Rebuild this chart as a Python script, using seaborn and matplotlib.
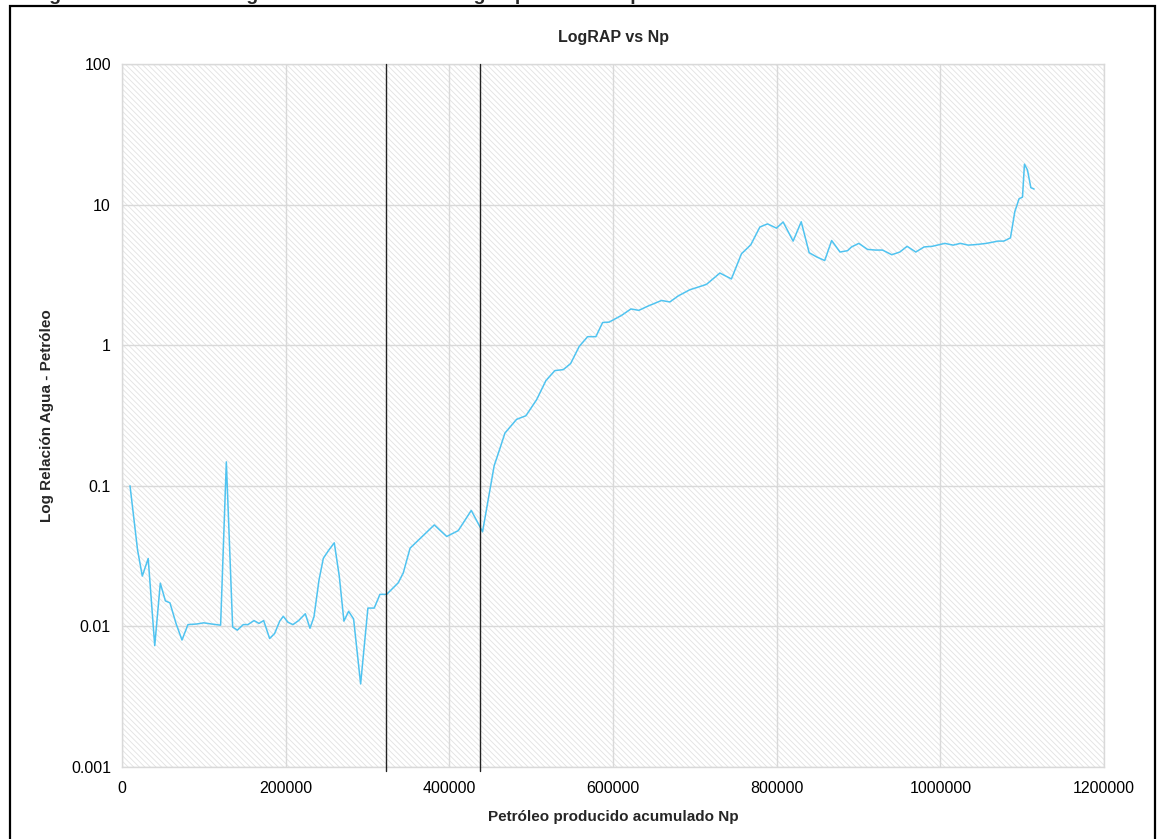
import numpy as np
import pandas as pd
import matplotlib
matplotlib.use("Agg")
import matplotlib.pyplot as plt
from matplotlib.patches import Rectangle
from matplotlib.ticker import FixedLocator, FixedFormatter
import seaborn as sns

# datos
np_acum = [9800, 19000, 24800, 32000, 40000, 46800, 53000, 58600, 66000, 73300,
           80600, 91200, 100000, 109500, 120500, 127500, 135200, 140900, 148200, 153900,
           161300, 167400, 173100, 180400, 186500, 192700, 197100, 202800, 208900, 215800,
           224000, 229700, 234600, 240700, 246000, 252900, 259400, 265500, 271200, 276900,
           283000, 291600, 300500, 308200, 315200, 323400, 337500, 343700, 352000, 381600,
           396800, 410900, 426800, 440600, 454800, 461800, 467900, 482200, 493600, 506700,
           518000, 529000, 539200, 548200, 558700, 569000, 579100, 587300, 595300, 610500,
           621900, 631600, 643000, 659300, 669500, 679600, 693900, 703300, 714300, 730600,
           744700, 757000, 768400, 779500, 788800, 799800, 807900, 820100, 830000, 839700,
           848700, 858700, 867200, 877400, 886600, 891500, 900400, 911000, 920800, 929300,
           940700, 950500, 959400, 970000, 980200, 990000, 1005500, 1015600, 1024600, 1034000,
           1044000, 1056300, 1063600, 1070500, 1077500, 1085700, 1091000, 1096200, 1100400, 1102800,
           1106500, 1110600, 1114600]
rap = [0.100, 0.035, 0.0228, 0.0304, 0.0073, 0.0203, 0.0152, 0.0147, 0.0105, 0.0080,
       0.0103, 0.0104, 0.0106, 0.0104, 0.0102, 0.148, 0.0099, 0.0094, 0.0103, 0.0103,
       0.0110, 0.0105, 0.0110, 0.0082, 0.0089, 0.0109, 0.0118, 0.0107, 0.0103, 0.0110,
       0.0123, 0.0097, 0.0117, 0.0213, 0.0305, 0.0350, 0.0393, 0.0228, 0.0109, 0.0128,
       0.0113, 0.0039, 0.0135, 0.0135, 0.0169, 0.0169, 0.0204, 0.0240, 0.036, 0.0527,
       0.0436, 0.0480, 0.0668, 0.0471, 0.139, 0.184, 0.237, 0.297, 0.315, 0.41,
       0.56, 0.66, 0.67, 0.74, 0.98, 1.15, 1.15, 1.45, 1.46, 1.63,
       1.81, 1.77, 1.9, 2.08, 2.03, 2.24, 2.48, 2.58, 2.71, 3.26,
       2.96, 4.47, 5.18, 6.93, 7.29, 6.8, 7.52, 5.5, 7.55, 4.55,
       4.25, 4.0, 5.55, 4.6, 4.7, 5.0, 5.3, 4.8, 4.75, 4.75,
       4.4, 4.6, 5.05, 4.6, 5.0, 5.05, 5.3, 5.15, 5.3, 5.15,
       5.2, 5.3, 5.4, 5.5, 5.5, 5.8, 8.9, 11.0, 11.3, 19.4,
       17.6, 13.2, 12.9]
cortes = [322000, 438000]   # lineas verticales
x_ticks = [0, 200000, 400000, 600000, 800000, 1000000, 1200000]
y_ticks = [0.001, 0.01, 0.1, 1, 10, 100]
y_labels = ["0.001", "0.01", "0.1", "1", "10", "100"]

df = pd.DataFrame({"Np": np_acum, "RAP": rap})

sns.set_theme(style="white")
plt.rcParams["font.family"] = ["Liberation Sans", "DejaVu Sans"]
plt.rcParams["hatch.color"] = "#e2e2e2"
plt.rcParams["hatch.linewidth"] = 0.6

fig = plt.figure(figsize=(11.57, 8.39), dpi=100)
ax = fig.add_axes([122/1157, 1-767/839, (1104-122)/1157, (767-64)/839])

# fondo rayado
ax.add_patch(Rectangle((0, 0), 1, 1, transform=ax.transAxes, facecolor="white",
                       edgecolor="#e2e2e2", hatch="\\\\\\\\\\\\", lw=0, zorder=0))

sns.lineplot(data=df, x="Np", y="RAP", sort=False, color="#4fc3f0", lw=1.1, ax=ax, zorder=3)

for xc in cortes:
    ax.axvline(xc, ymin=-0.005, ymax=1, color="#222222", lw=1.0, zorder=4, clip_on=False)

ax.set_yscale("log")
ax.set_xlim(0, 1200000)
ax.set_ylim(0.001, 100)
ax.xaxis.set_major_locator(FixedLocator(x_ticks))
ax.set_xticklabels([str(v) for v in x_ticks])
ax.yaxis.set_major_locator(FixedLocator(y_ticks))
ax.yaxis.set_major_formatter(FixedFormatter(y_labels))
ax.yaxis.set_minor_locator(FixedLocator([]))
ax.grid(True, color="#d9d9d9", lw=1.0, zorder=1)
ax.set_axisbelow(True)
for s in ax.spines.values():
    s.set_color("#d9d9d9")
    s.set_linewidth(1.0)
ax.tick_params(axis="both", length=0, labelsize=11.5, colors="black")
ax.tick_params(axis="x", pad=10)
ax.tick_params(axis="y", pad=8)

ax.set_xlabel("Petróleo producido acumulado Np", fontsize=11, fontweight="bold", labelpad=10)
ax.set_ylabel("Log Relación Agua - Petróleo", fontsize=11, fontweight="bold", labelpad=12)
ax.set_title("LogRAP vs Np", fontsize=11.5, fontweight="bold", pad=16)

# marco exterior
fig.patches.append(Rectangle((10/1157, -0.02), (1155-10)/1157, 1.02-6/839,
                             transform=fig.transFigure, fill=False,
                             edgecolor="black", lw=1.6))

# titulo de figura cortado en la parte superior
fig.text(32/1157, 1.0, "Figura 21. Curva de diagnóstico de la relación agua-petróleo del pozo",
         fontsize=14, fontweight="bold", ha="left", va="baseline")

fig.savefig("out.png", dpi=100)
